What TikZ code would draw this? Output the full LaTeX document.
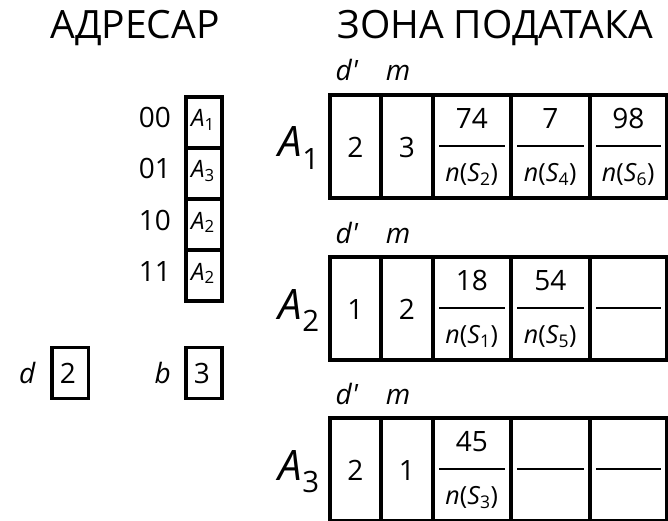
\documentclass[tikz,border=0pt]{standalone}
\usepackage{fontspec}
\setmainfont{Open Sans}
\usetikzlibrary{positioning, calc}

\newcommand{\fs}[1]{\fontsize{#1}{#1}\selectfont}
\newcommand{\idx}[2]{\textit{#1}\textsubscript{#2}}

\begin{document}
\begin{tikzpicture}[x=1pt,y=-1pt,
  box/.style={draw,line width=3.6pt,rectangle,inner sep=0pt,anchor=north west},
  lbl/.style={inner sep=0pt,anchor=base},
  big/.style={font=\fs{28}},
  small/.style={font=\fs{25}},
  bar/.style={line width=1.7pt}]

  \useasboundingbox (0,0) rectangle (668,521);

  % Titles
  \node[lbl,font=\fs{39}] (adresar) at (135,39) {АДРЕСАР};
  \node[lbl,font=\fs{39}] (zona) at (495,39) {ЗОНА ПОДАТАКА};

  % Directory (four entries)
  \foreach \i/\adr/\av in {0/00/1,1/01/3,2/10/2,3/11/2}{
    \node[box,minimum width=36pt,minimum height=51pt] (dir\i) at (184,95+51*\i) {};
    \node[lbl,font=\fs{24}] (dirv\i) at (203,127+51*\i) {\idx{A}{\av}};
    \node[lbl,big,anchor=base east] (dirk\i) at (171,128+51*\i) {\adr};
  }

  % Global depth d and bucket size b
  \node[box,minimum width=36.5pt,minimum height=51pt] (dbox) at (50,345.5) {};
  \node[lbl,big] (dval) at (68,383) {2};
  \node[lbl,big,anchor=base east] (dlbl) at (36,383) {\textit{d}};
  \node[box,minimum width=36pt,minimum height=51pt] (bbox) at (184,345.5) {};
  \node[lbl,big] (bval) at (202,383) {3};
  \node[lbl,big,anchor=base east] (blbl) at (171,383) {\textit{b}};

  % Buckets
  \foreach \t/\T/\dv/\mv in {1/93/2/3,2/255/1/2,3/416/2/1}{
    \node[lbl,font=\fs{42},anchor=base east] (A\t) at (320,\T+64) {\idx{A}{\t}};
    \node[lbl,big] (dp\t) at (347,\T-12) {\textit{d\textquotesingle}};
    \node[lbl,big] (m\t) at (398,\T-12) {\textit{m}};
    \foreach \c/\xa/\xb in {1/328/379,2/379/431,3/431/509,4/509/588,5/588/665}{
      \pgfmathsetmacro\w{\xb-\xa}
      \node[box,minimum width=\w pt,minimum height=103pt] (c\t\c) at (\xa,\T) {};
    }
    \node[lbl,big] (dv\t) at ($(c\t1.center)+(0,11.5)$) {\dv};
    \node[lbl,big] (mv\t) at ($(c\t2.center)+(0,11.5)$) {\mv};
    % fraction bars
    \foreach \c in {3,4,5}
      \draw[bar] ($(c\t\c.west)+(8,0)$) -- ($(c\t\c.east)+(-8,0)$);
  }

  % Record values and sizes
  \foreach \t/\c/\num/\s in {1/3/74/2,1/4/7/4,1/5/98/6,2/3/18/1,2/4/54/5,3/3/45/3}{
    \node[lbl,big] (num\t\c) at ($(c\t\c.center)+(0,-18)$) {\num};
    \node[lbl,small] (den\t\c) at ($(c\t\c.center)+(0,35.5)$) {\textit{n}(\idx{S}{\s})};
  }
\end{tikzpicture}
\end{document}
